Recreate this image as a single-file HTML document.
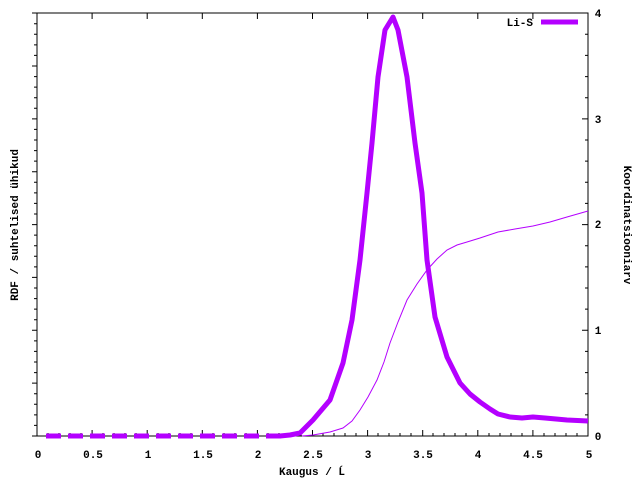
<!DOCTYPE html>
<html><head><meta charset="utf-8"><style>body{margin:0;background:#fff}svg{display:block}text{font-family:"Liberation Mono","DejaVu Sans Mono",monospace;font-size:11px;font-weight:bold;fill:#000}</style></head><body>
<svg width="640" height="480" xmlns="http://www.w3.org/2000/svg">
<rect x="37" y="13" width="551" height="423" fill="none" stroke="#000" stroke-width="1"/>
<g stroke="#000" stroke-width="1">
<path d="M37 436v-6M48 436v-3M59 436v-3M70 436v-3M81 436v-3M92.1 436v-6M103 436v-3M114 436v-3M125 436v-3M136 436v-3M147.2 436v-6M158 436v-3M169 436v-3M180 436v-3M191 436v-3M202.3 436v-6M213 436v-3M224 436v-3M235 436v-3M246 436v-3M257.4 436v-6M268 436v-3M279 436v-3M290 436v-3M301 436v-3M312.5 436v-6M323 436v-3M334 436v-3M345 436v-3M356 436v-3M367.6 436v-6M378 436v-3M389 436v-3M400 436v-3M411 436v-3M422.7 436v-6M433 436v-3M444 436v-3M455 436v-3M466 436v-3M477.8 436v-6M489 436v-3M500 436v-3M511 436v-3M522 436v-3M532.9 436v-6M544 436v-3M555 436v-3M566 436v-3M577 436v-3M588 436v-6"/>
<path d="M92.1 13v6M147.2 13v6M202.3 13v6M257.4 13v6M312.5 13v6M367.6 13v6M422.7 13v6M477.8 13v6M532.9 13v6"/>
<path d="M32 436h5M34 425.4h3M34 414.9h3M34 404.3h3M34 393.7h3M32 383.1h5M34 372.6h3M34 362h3M34 351.4h3M34 340.9h3M32 330.3h5M34 319.7h3M34 309.1h3M34 298.6h3M34 288h3M32 277.4h5M34 266.9h3M34 256.3h3M34 245.7h3M34 235.1h3M32 224.6h5M34 214h3M34 203.4h3M34 192.9h3M34 182.3h3M32 171.7h5M34 161.1h3M34 150.6h3M34 140h3M34 129.4h3M32 118.9h5M34 108.3h3M34 97.7h3M34 87.1h3M34 76.6h3M32 66h5M34 55.4h3M34 44.9h3M34 34.3h3M34 23.7h3M32 13h5"/>
<path d="M582 436h6M585 414.9h3M585 393.7h3M585 372.6h3M585 351.4h3M582 330.3h6M585 309.1h3M585 288h3M585 266.9h3M585 245.7h3M582 224.6h6M585 203.4h3M585 182.3h3M585 161.1h3M585 140h3M582 118.9h6M585 97.7h3M585 76.6h3M585 55.4h3M585 34.3h3M582 13h6"/>
</g>
<g text-anchor="middle">
<text x="38" y="458">0</text><text x="93" y="458">0.5</text><text x="148" y="458">1</text><text x="203" y="458">1.5</text><text x="258" y="458">2</text><text x="313" y="458">2.5</text><text x="368" y="458">3</text><text x="423" y="458">3.5</text><text x="478" y="458">4</text><text x="533" y="458">4.5</text><text x="589" y="458">5</text>
<text x="598" y="440">0</text><text x="598" y="334">1</text><text x="598" y="228">2</text><text x="598" y="123">3</text><text x="598" y="17">4</text>
</g>
<polyline fill="none" stroke="#b400ff" stroke-width="5" stroke-dasharray="15 7" points="46,436 282,436"/>
<polyline fill="none" stroke="#b400ff" stroke-width="5" stroke-linejoin="round" points="280,436 290,435 300,433 313,420 330,400 343,363 352,320 360,260 367,193 372,143 378,77 385,30 393,17 398,30 407,77 415,143 422,193 427,260 435,317 447,357 460,383 470,394 480,402 490,409 498,414 510,417 522,418 533,417 545,418 567,420 588,421"/>
<polyline fill="none" stroke="#b400ff" stroke-width="1" points="302,436 313,435 330,432 343,428 352,421 360,410 368,397 377,380 384,362 390,343 398,322 407,300 417,284 427,270 437,259 447,250 457,245 467,242 480,238 498,232 515,229 533,226 550,222 567,217 588,211"/>
<text x="533" y="26" text-anchor="end">Li-S</text>
<line x1="541" y1="22" x2="578" y2="22" stroke="#b400ff" stroke-width="5"/>
<text x="312" y="475" text-anchor="middle">Kaugus / Ĺ</text>
<text transform="translate(18,225) rotate(-90)" text-anchor="middle">RDF / suhtelised ühikud</text>
<text transform="translate(624,225) rotate(90)" text-anchor="middle">Koordinatsiooniarv</text>
</svg></body></html>
